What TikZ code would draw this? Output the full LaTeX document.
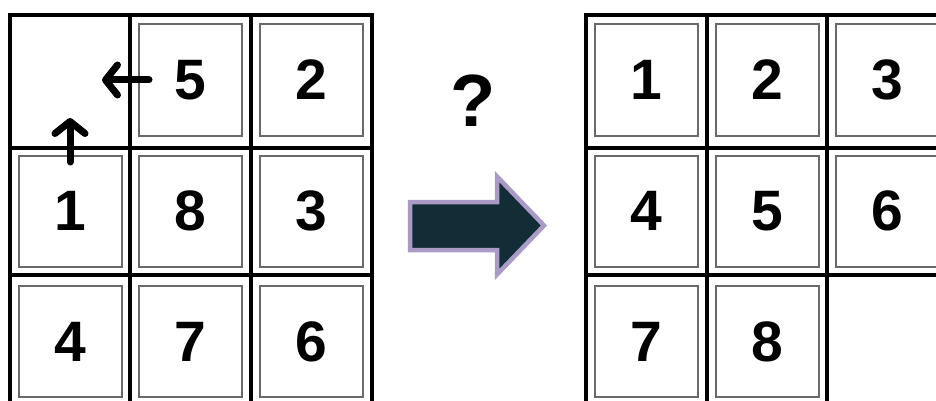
\documentclass[tikz,border=0pt]{standalone}
\usepackage{fontspec}
\setmainfont{Liberation Sans}
\usetikzlibrary{arrows.meta}
\definecolor{tilegray}{RGB}{105,105,105}
\definecolor{arrowfill}{RGB}{19,45,54}
\definecolor{arrowedge}{RGB}{169,154,198}

\begin{document}
\begin{tikzpicture}[x=1pt, y=-1pt,
    grid/.style={line width=4.5pt},
    tile/.style={draw=tilegray, line width=2pt, minimum width=103pt, minimum height=111pt,
      inner sep=0pt, font=\fontsize{57}{57}\selectfont\bfseries},
    slide/.style={line width=7pt, line cap=round,
      -{Straight Barb[length=12pt, width=30pt, line width=7pt, round]}}]
  \clip (0,0) rectangle (936,401);
  % Left board: frame and cell lines
  \draw[grid] (10,401) -- (10,15) -- (372,15) -- (372,401);
  \draw[grid] (130,15) -- (130,401);
  \draw[grid] (251,15) -- (251,401);
  \draw[grid] (10,148) -- (372,148);
  \draw[grid] (10,275) -- (372,275);
  % Left board: tiles (top left cell is empty)
  \node[tile] (l5) at (190.5,80) {5};
  \node[tile] (l2) at (311.5,80) {2};
  \node[tile] (l1) at (70,211) {1};
  \node[tile] (l8) at (190.5,211) {8};
  \node[tile] (l3) at (311.5,211) {3};
  \node[tile] (l4) at (70,341.5) {4};
  \node[tile] (l7) at (190.5,341.5) {7};
  \node[tile] (l6) at (311.5,341.5) {6};
  % Possible moves into the empty cell
  \coordinate (from5) at (149,80);
  \coordinate (into5) at (102,80);
  \coordinate (from1) at (70,162);
  \coordinate (into1) at (70,118);
  \draw[slide] (from5) -- (into5);
  \draw[slide] (from1) -- (into1);
  % Question and big arrow
  \node[font=\fontsize{74}{74}\selectfont\bfseries] (ask) at (473,101) {?};
  \draw[arrowedge, fill=arrowfill, line width=4.5pt, line join=miter]
    (410,202) -- (497,202) -- (497,176.5) -- (544,225.5)
    -- (497,274.5) -- (497,250) -- (410,250) -- cycle;
  % Right board: frame and cell lines
  \draw[grid] (586,401) -- (586,15) -- (936,15);
  \draw[grid] (707,15) -- (707,401);
  \draw[grid] (827,15) -- (827,401);
  \draw[grid] (586,148) -- (936,148);
  \draw[grid] (586,275) -- (936,275);
  % Right board: goal tiles (bottom right cell is empty)
  \node[tile] (r1) at (646.5,80) {1};
  \node[tile] (r2) at (767,80) {2};
  \node[tile] (r3) at (887.5,80) {3};
  \node[tile] (r4) at (646.5,211) {4};
  \node[tile] (r5) at (767,211) {5};
  \node[tile] (r6) at (887.5,211) {6};
  \node[tile] (r7) at (646.5,341.5) {7};
  \node[tile] (r8) at (767,341.5) {8};
\end{tikzpicture}
\end{document}
